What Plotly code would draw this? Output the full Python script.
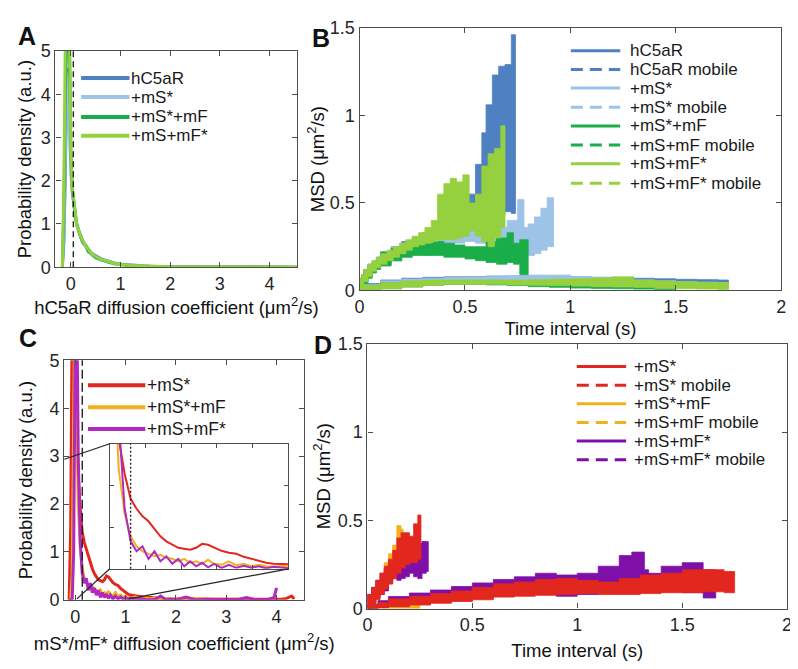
import plotly.graph_objects as go

# page offset (browser body margin) is compensated: figure is 790x661 drawn at (8, 8)
W, H = 790, 661
OFF = 8
FONT = "Liberation Sans, Arial, sans-serif"

# ---------------- Panel A: hC5aR diffusion coefficient distributions ----------------
a_D = [-0.17, -0.14, -0.11, -0.08, -0.05, -0.02, 0.0, 0.03, 0.06, 0.09, 0.12, 0.16, 0.2, 0.25,
       0.3, 0.35, 0.4, 0.45, 0.5, 0.6, 0.7, 0.8, 0.9, 1.0, 1.1, 1.2, 1.4, 1.6, 1.8, 2.0, 2.3,
       2.6, 3.0, 3.4, 3.8, 4.2, 4.56]
a_hC5aR = [0.0, 0.6, 2.2, 4.4, 4.6, 3.2, 2.3, 1.75, 1.45, 1.2, 1.0, 0.85, 0.72, 0.58, 0.5, 0.42,
           0.35, 0.3, 0.26, 0.2, 0.16, 0.12, 0.09, 0.07, 0.06, 0.05, 0.035, 0.025, 0.018, 0.012,
           0.008, 0.006, 0.004, 0.006, 0.003, 0.002, 0.002]
a_mS = [0.0, 0.8, 2.8, 4.5, 4.2, 3.0, 2.2, 1.7, 1.4, 1.15, 0.98, 0.82, 0.7, 0.56, 0.47, 0.4, 0.34,
        0.29, 0.24, 0.18, 0.14, 0.11, 0.085, 0.065, 0.055, 0.045, 0.03, 0.02, 0.015, 0.01, 0.007,
        0.005, 0.004, 0.003, 0.003, 0.002, 0.002]
a_mSmF = [0.0, 1.5, 4.0, 6.5, 6.8, 4.5, 2.6, 1.8, 1.45, 1.18, 0.98, 0.8, 0.68, 0.55, 0.5, 0.36,
          0.32, 0.27, 0.22, 0.17, 0.13, 0.1, 0.075, 0.06, 0.045, 0.035, 0.025, 0.015, 0.01, 0.008,
          0.005, 0.004, 0.003, 0.002, 0.002, 0.001, 0.001]
a_mSmFs = [0.0, 2.0, 5.5, 8.0, 7.0, 4.8, 2.7, 1.85, 1.5, 1.2, 0.95, 0.85, 0.7, 0.6, 0.48, 0.42,
           0.33, 0.28, 0.24, 0.18, 0.15, 0.11, 0.08, 0.065, 0.05, 0.04, 0.03, 0.02, 0.015, 0.01,
           0.008, 0.006, 0.004, 0.003, 0.002, 0.002, 0.001]
a_names = ["hC5aR", "+mS*", "+mS*+mF", "+mS+mF*"]
a_series = [a_hC5aR, a_mS, a_mSmF, a_mSmFs]
a_cutoff = 0.05

# ---------------- Panel B: MSD, hC5aR conditions (lower / upper error bounds) ----------------
b_t_all = [0, 0.1, 0.2, 0.3, 0.4, 0.5, 0.6, 0.7, 0.8, 0.9, 1.0, 1.1, 1.2, 1.3, 1.4, 1.5, 1.6, 1.7, 1.75]
b_hC5aR_hi = [0.01, 0.04, 0.06, 0.07, 0.075, 0.078, 0.08, 0.082, 0.082, 0.082, 0.08, 0.078, 0.075,
              0.072, 0.07, 0.067, 0.064, 0.062, 0.06]
b_hC5aR_lo = [0.0, 0.02, 0.04, 0.05, 0.055, 0.058, 0.06, 0.06, 0.06, 0.06, 0.058, 0.055, 0.05,
              0.048, 0.045, 0.042, 0.04, 0.035, 0.03]
b_mS_hi = [0.01, 0.035, 0.055, 0.065, 0.07, 0.075, 0.078, 0.082, 0.085, 0.088, 0.088, 0.08, 0.075,
           0.068, 0.06, 0.055, 0.05, 0.047, 0.045]
b_mS_lo = [0.0, 0.015, 0.03, 0.04, 0.045, 0.048, 0.05, 0.05, 0.05, 0.048, 0.045, 0.04, 0.035,
           0.03, 0.025, 0.022, 0.02, 0.017, 0.015]
b_t_mSmF = [0, 0.1, 0.2, 0.3, 0.4, 0.5, 0.6, 0.7, 0.8, 0.9, 1.0, 1.1, 1.2, 1.3, 1.4, 1.5]
b_mSmF_hi = [0.01, 0.03, 0.045, 0.05, 0.055, 0.055, 0.052, 0.05, 0.047, 0.045, 0.042, 0.04, 0.037,
             0.035, 0.032, 0.03]
b_mSmF_lo = [0.0, 0.01, 0.02, 0.03, 0.035, 0.035, 0.032, 0.028, 0.022, 0.018, 0.014, 0.012, 0.01,
             0.008, 0.006, 0.005]
b_mSmFs_hi = [0.01, 0.03, 0.045, 0.055, 0.06, 0.06, 0.06, 0.06, 0.06, 0.062, 0.065, 0.068, 0.072,
              0.078, 0.06, 0.055, 0.05, 0.047, 0.045]
b_mSmFs_lo = [0.0, 0.01, 0.02, 0.03, 0.035, 0.035, 0.035, 0.032, 0.03, 0.028, 0.025, 0.022, 0.02,
              0.018, 0.012, 0.01, 0.008, 0.006, 0.005]

# mobile fractions
b_t_hC5aR_mob = [0, 0.01, 0.02, 0.04, 0.06, 0.08, 0.1, 0.15, 0.2, 0.25, 0.3, 0.35, 0.4, 0.45, 0.5,
                 0.55, 0.58, 0.6, 0.63, 0.66, 0.69, 0.72, 0.74]
b_hC5aR_mob_hi = [0.05, 0.07, 0.09, 0.12, 0.15, 0.17, 0.19, 0.22, 0.25, 0.28, 0.3, 0.33, 0.36,
                  0.4, 0.47, 0.55, 0.72, 0.9, 1.06, 1.23, 1.28, 1.29, 1.46]
b_hC5aR_mob_lo = [0.01, 0.03, 0.05, 0.08, 0.11, 0.13, 0.15, 0.17, 0.2, 0.22, 0.23, 0.25, 0.27,
                  0.3, 0.32, 0.33, 0.35, 0.38, 0.4, 0.43, 0.45, 0.44, 0.45]
b_t_mS_mob = [0, 0.01, 0.02, 0.04, 0.06, 0.08, 0.1, 0.15, 0.2, 0.25, 0.3, 0.35, 0.4, 0.45, 0.5,
              0.55, 0.6, 0.65, 0.7, 0.75, 0.78, 0.8, 0.83, 0.86, 0.89, 0.92]
b_mS_mob_hi = [0.05, 0.07, 0.09, 0.12, 0.15, 0.17, 0.19, 0.22, 0.25, 0.27, 0.29, 0.31, 0.35, 0.4,
               0.42, 0.4, 0.38, 0.37, 0.36, 0.4, 0.52, 0.36, 0.38, 0.42, 0.47, 0.53]
b_mS_mob_lo = [0.01, 0.03, 0.05, 0.08, 0.11, 0.13, 0.15, 0.17, 0.19, 0.21, 0.22, 0.23, 0.25,
               0.27, 0.28, 0.27, 0.26, 0.25, 0.24, 0.22, 0.21, 0.2, 0.21, 0.23, 0.25, 0.28]
b_t_mSmF_mob = [0, 0.01, 0.02, 0.04, 0.06, 0.08, 0.1, 0.15, 0.2, 0.25, 0.3, 0.35, 0.4, 0.45, 0.5,
                0.55, 0.6, 0.65, 0.7, 0.73, 0.76, 0.8]
b_mSmF_mob_hi = [0.04, 0.06, 0.08, 0.11, 0.14, 0.16, 0.18, 0.22, 0.24, 0.25, 0.26, 0.27, 0.28,
                 0.27, 0.26, 0.25, 0.25, 0.28, 0.3, 0.33, 0.27, 0.29]
b_mSmF_mob_lo = [0.0, 0.02, 0.04, 0.07, 0.1, 0.12, 0.14, 0.17, 0.19, 0.2, 0.2, 0.2, 0.19, 0.19,
                 0.18, 0.17, 0.16, 0.15, 0.16, 0.15, 0.09, 0.14]
b_t_mSmFs_mob = [0, 0.01, 0.02, 0.04, 0.06, 0.08, 0.1, 0.13, 0.16, 0.19, 0.22, 0.25, 0.28, 0.31,
                 0.34, 0.37, 0.4, 0.43, 0.46, 0.49, 0.52, 0.55, 0.58, 0.61, 0.64, 0.67, 0.69]
b_mSmFs_mob_hi = [0.05, 0.07, 0.09, 0.12, 0.15, 0.17, 0.19, 0.21, 0.23, 0.25, 0.27, 0.29, 0.31,
                  0.33, 0.36, 0.4, 0.55, 0.61, 0.64, 0.62, 0.66, 0.5, 0.55, 0.71, 0.78, 0.81, 0.94]
b_mSmFs_mob_lo = [0.01, 0.03, 0.05, 0.08, 0.11, 0.13, 0.15, 0.17, 0.19, 0.21, 0.23, 0.25, 0.26,
                  0.27, 0.28, 0.29, 0.29, 0.29, 0.3, 0.31, 0.34, 0.31, 0.28, 0.25, 0.3, 0.36, 0.38]
b_names = ["hC5aR", "hC5aR mobile", "+mS*", "+mS* mobile", "+mS*+mF", "+mS+mF mobile",
           "+mS+mF*", "+mS+mF* mobile"]

# ---------------- Panel C: mS*/mF* diffusion coefficient distributions ----------------
c_D = [-0.12, -0.09, -0.06, -0.03, 0.0, 0.03, 0.06, 0.1, 0.14, 0.18, 0.22, 0.26, 0.3, 0.34, 0.38,
       0.42, 0.46, 0.5, 0.54, 0.58, 0.62, 0.66, 0.7, 0.75, 0.8, 0.85, 0.9, 0.95, 1.0, 1.05, 1.1,
       1.2, 1.3, 1.4, 1.5, 1.6, 1.7, 1.8, 1.9, 2.0, 2.2, 2.4, 2.6, 2.8, 3.0, 3.2, 3.4, 3.6, 3.8,
       3.95, 4.0, 4.05, 4.2, 4.3, 4.35]
c_mS = [0.0, 1.5, 6.0, 5.5, 4.0, 3.2, 2.6, 1.9, 1.4, 1.2, 1.05, 0.95, 0.8, 0.65, 0.55, 0.48, 0.42,
        0.4, 0.38, 0.42, 0.5, 0.48, 0.42, 0.36, 0.32, 0.3, 0.24, 0.2, 0.15, 0.12, 0.1, 0.08, 0.06,
        0.05, 0.05, 0.04, 0.03, 0.03, 0.02, 0.02, 0.02, 0.015, 0.01, 0.015, 0.01, 0.01, 0.01,
        0.01, 0.01, 0.01, 0.01, 0.01, 0.03, 0.08, 0.02]
c_mSmF = [0.0, 0.0, 0.5, 4.0, 7.0, 4.0, 2.0, 1.1, 0.65, 0.45, 0.35, 0.3, 0.25, 0.28, 0.22, 0.2,
          0.15, 0.2, 0.12, 0.15, 0.1, 0.18, 0.1, 0.08, 0.15, 0.07, 0.1, 0.05, 0.08, 0.05, 0.04,
          0.06, 0.03, 0.04, 0.02, 0.05, 0.02, 0.03, 0.01, 0.02, 0.01, 0.03, 0.01,
          None, None, None, None, None, None, None, None, None, None, None, None]
c_mSmFs = [0.0, 0.0, 0.0, 1.0, 5.5, 6.5, 3.0, 1.2, 0.55, 0.35, 0.45, 0.2, 0.35, 0.15, 0.25, 0.1,
           0.2, 0.05, 0.15, 0.05, 0.12, 0.03, 0.1, 0.02, 0.08, 0.02, 0.06, 0.02, 0.05, 0.01, 0.04,
           0.01, 0.03, 0.01, 0.0, 0.02, 0.08, 0.0, 0.01, 0.0, 0.06, 0.0, 0.01, 0.0, 0.0, 0.0,
           0.05, 0.0, 0.0, 0.05, 0.25, None, None, None, None]
c_names = ["+mS*", "+mS*+mF", "+mS+mF*"]
c_series = [c_mS, c_mSmF, c_mSmFs]
c_cutoff = 0.14

# ---------------- Panel D: MSD, mS*/mF* conditions ----------------
d_t_mS = [0, 0.05, 0.1, 0.2, 0.3, 0.4, 0.5, 0.6, 0.7, 0.8, 0.9, 1.0, 1.1, 1.2, 1.3, 1.4, 1.5, 1.6,
          1.7, 1.75]
d_mS_hi = [0.005, 0.02, 0.035, 0.055, 0.07, 0.085, 0.1, 0.12, 0.14, 0.15, 0.165, 0.17, 0.16, 0.15,
           0.17, 0.19, 0.2, 0.22, 0.22, 0.21]
d_mS_lo = [0.0, 0.005, 0.01, 0.02, 0.03, 0.04, 0.05, 0.065, 0.07, 0.075, 0.08, 0.085, 0.08, 0.08,
           0.085, 0.09, 0.09, 0.095, 0.09, 0.09]
d_t_mSmF = [0, 0.05, 0.1, 0.15, 0.2, 0.25]
d_mSmF_hi = [0.005, 0.015, 0.02, 0.025, 0.025, 0.02]
d_mSmF_lo = [0.0, 0.0, 0.0, 0.0, 0.0, 0.0]
d_t_mSmFs = [0, 0.05, 0.1, 0.2, 0.3, 0.4, 0.5, 0.6, 0.7, 0.8, 0.9, 1.0, 1.1, 1.2, 1.26, 1.32,
             1.34, 1.4, 1.5, 1.6, 1.66]
d_mSmFs_hi = [0.005, 0.025, 0.045, 0.068, 0.088, 0.105, 0.125, 0.145, 0.165, 0.18, 0.2, 0.19, 0.2,
              0.24, 0.3, 0.32, 0.22, 0.2, 0.24, 0.26, 0.22]
d_mSmFs_lo = [0.0, 0.005, 0.015, 0.025, 0.035, 0.045, 0.06, 0.07, 0.08, 0.08, 0.07, 0.08, 0.09,
              0.09, 0.1, 0.1, 0.1, 0.1, 0.09, 0.06, 0.1]
d_t_mS_mob = [0, 0.02, 0.04, 0.06, 0.08, 0.1, 0.12, 0.14, 0.16, 0.18, 0.2, 0.22, 0.24, 0.255]
d_mS_mob_hi = [0.03, 0.08, 0.12, 0.16, 0.2, 0.24, 0.28, 0.33, 0.4, 0.43, 0.43, 0.41, 0.48, 0.53]
d_mS_mob_lo = [0.0, 0.02, 0.05, 0.08, 0.11, 0.14, 0.17, 0.2, 0.23, 0.25, 0.26, 0.26, 0.28, 0.3]
d_t_mSmF_mob = [0, 0.02, 0.04, 0.06, 0.08, 0.1, 0.12, 0.14, 0.16, 0.17]
d_mSmF_mob_hi = [0.03, 0.08, 0.12, 0.16, 0.2, 0.26, 0.31, 0.36, 0.47, 0.45]
d_mSmF_mob_lo = [0.0, 0.03, 0.06, 0.09, 0.12, 0.15, 0.19, 0.22, 0.25, 0.26]
d_t_mSmFs_mob = [0, 0.02, 0.04, 0.06, 0.08, 0.1, 0.12, 0.14, 0.16, 0.18, 0.2, 0.22, 0.24, 0.26,
                 0.28, 0.29]
d_mSmFs_mob_hi = [0.03, 0.08, 0.12, 0.16, 0.2, 0.23, 0.25, 0.26, 0.29, 0.31, 0.33, 0.3, 0.34,
                  0.37, 0.38, 0.38]
d_mSmFs_mob_lo = [0.0, 0.03, 0.06, 0.08, 0.1, 0.14, 0.17, 0.16, 0.17, 0.18, 0.2, 0.18, 0.17, 0.2,
                  0.21, 0.22]
d_names = ["+mS*", "+mS* mobile", "+mS*+mF", "+mS+mF mobile", "+mS+mF*", "+mS+mF* mobile"]

# axis titles
t_A_x = "hC5aR diffusion coefficient (μm<sup>2</sup>/s)"
t_C_x = "mS*/mF* diffusion coefficient (μm<sup>2</sup>/s)"
t_dens = "Probability density (a.u.)"
t_msd = "MSD (μm<sup>2</sup>/s)"
t_time = "Time interval (s)"

# ---------------- styling ----------------
C_DB, C_LB, C_G, C_LG = "#4f81c2", "#9dc3e6", "#1aae4a", "#95d13f"
C_R, C_O, C_P, C_PD = "#e2271f", "#f2b01e", "#b02ac0", "#7e10a8"
AX = "#4d4d4d"
TXT = "#262626"


def px(x):
    return (x - OFF) / W


def py(y):
    return 1 - (y - OFF) / H


fig = go.Figure()


def band(t, lo, hi, color, ax):
    xs = list(t) + list(t)[::-1]
    ys = list(hi) + list(lo)[::-1]
    fig.add_trace(go.Scatter(x=xs, y=ys, mode="lines", fill="toself", fillcolor=color,
                             line=dict(color=color, width=0.8, shape="vh"),
                             xaxis="x" + ax, yaxis="y" + ax, hoverinfo="skip",
                             showlegend=False))


# Panel A curves
for s, c, n in zip(a_series, [C_DB, C_LB, C_G, C_LG], a_names):
    fig.add_trace(go.Scatter(x=a_D, y=s, mode="lines", name=n, line=dict(color=c, width=3),
                             xaxis="x", yaxis="y", showlegend=False))

# Panel B bands
band(b_t_all, b_hC5aR_lo, b_hC5aR_hi, C_DB, "2")
band(b_t_hC5aR_mob, b_hC5aR_mob_lo, b_hC5aR_mob_hi, C_DB, "2")
band(b_t_all, b_mS_lo, b_mS_hi, C_LB, "2")
band(b_t_mS_mob, b_mS_mob_lo, b_mS_mob_hi, C_LB, "2")
band(b_t_mSmF, b_mSmF_lo, b_mSmF_hi, C_G, "2")
band(b_t_mSmF_mob, b_mSmF_mob_lo, b_mSmF_mob_hi, C_G, "2")
band(b_t_all, b_mSmFs_lo, b_mSmFs_hi, C_LG, "2")
band(b_t_mSmFs_mob, b_mSmFs_mob_lo, b_mSmFs_mob_hi, C_LG, "2")

# Panel C curves (main + inset)
for s, c, n in zip(c_series, [C_R, C_O, C_P], c_names):
    fig.add_trace(go.Scatter(x=c_D, y=s, mode="lines", name=n, line=dict(color=c, width=3),
                             xaxis="x3", yaxis="y3", showlegend=False))
for s, c, n in zip(c_series, [C_R, C_O, C_P], c_names):
    fig.add_trace(go.Scatter(x=c_D, y=s, mode="lines", name=n, line=dict(color=c, width=2),
                             xaxis="x5", yaxis="y5", showlegend=False))

# Panel D bands
band(d_t_mSmF, d_mSmF_lo, d_mSmF_hi, C_O, "4")
band(d_t_mSmF_mob, d_mSmF_mob_lo, d_mSmF_mob_hi, C_O, "4")
band(d_t_mSmFs, d_mSmFs_lo, d_mSmFs_hi, C_PD, "4")
band(d_t_mSmFs_mob, d_mSmFs_mob_lo, d_mSmFs_mob_hi, C_PD, "4")
band(d_t_mS, d_mS_lo, d_mS_hi, C_R, "4")
band(d_t_mS_mob, d_mS_mob_lo, d_mS_mob_hi, C_R, "4")


def axis(domain, rng, anchor, dtick=None, labels=True, tl=5, title=None, standoff=None):
    d = dict(domain=domain, range=rng, anchor=anchor, showline=True, mirror="ticks",
             linecolor=AX, linewidth=1.3, ticks="inside", ticklen=tl, tickcolor=AX,
             tickwidth=1, showgrid=False, zeroline=False, showticklabels=labels,
             tickfont=dict(family=FONT, size=18, color=TXT))
    if dtick is not None:
        d["dtick"] = dtick
        d["tick0"] = 0
    if title is not None:
        d["title"] = dict(text=title, standoff=standoff,
                          font=dict(family=FONT, size=18.5, color="#111"))
    return d


layout = dict(
    width=W, height=H, margin=dict(l=0, r=0, t=0, b=0), autosize=False,
    paper_bgcolor="white", plot_bgcolor="rgba(0,0,0,0)", showlegend=False,
    font=dict(family=FONT, color=TXT),
    xaxis=axis([px(51), px(296)], [-0.31, 4.56], "y", 1, title=t_A_x, standoff=5),
    yaxis=axis([py(265), py(42)], [0, 5], "x", 1, title=t_dens, standoff=4),
    xaxis2=axis([px(359), px(786)], [0, 2], "y2", 0.5, title=t_time, standoff=5),
    yaxis2=axis([py(289), py(18)], [0, 1.5], "x2", 0.5, title=t_msd, standoff=0),
    xaxis3=axis([px(60), px(303)], [-0.216, 4.55], "y3", 1, title=t_C_x, standoff=11),
    yaxis3=axis([py(608), py(361)], [0, 5.0], "x3", 1, title=t_dens, standoff=12),
    xaxis4=axis([px(367), px(792)], [0, 2], "y4", 0.5, title=t_time, standoff=9),
    yaxis4=axis([py(617), py(344)], [0, 1.5], "x4", 0.5, title=t_msd, standoff=2),
    xaxis5=axis([px(106), px(287)], [0, 1.2], "y5", 0.24, labels=False, tl=4),
    yaxis5=axis([py(576), py(447)], [0, 2.5], "x5", 2.5 / 3, labels=False, tl=4),
)
fig.update_layout(**layout)

shapes = []
annos = []

# cutoff lines
shapes.append(dict(type="line", xref="x", yref="y domain", x0=a_cutoff, x1=a_cutoff, y0=0, y1=1,
                   line=dict(color="#222", width=1.4, dash="6px,4px")))
shapes.append(dict(type="line", xref="x3", yref="y3 domain", x0=c_cutoff, x1=c_cutoff, y0=0, y1=1,
                   line=dict(color="#222", width=1.4, dash="9px,4px")))
shapes.append(dict(type="line", xref="x5", yref="y5 domain", x0=c_cutoff, x1=c_cutoff, y0=0, y1=1,
                   line=dict(color="#222", width=1.4, dash="2px,2px")))
# inset connector lines
for (x0, y0, x1, y1) in [(60, 463, 106, 447), (72.7, 607, 106, 576), (125, 607, 287, 576)]:
    shapes.append(dict(type="line", xref="paper", yref="paper", x0=px(x0), y0=py(y0),
                       x1=px(x1), y1=py(y1), line=dict(color="#222", width=1.2)))


def legend(names, colors, dashes, x0, x1, xt, ys, lw, fs):
    for n, c, d, y in zip(names, colors, dashes, ys):
        shapes.append(dict(type="line", xref="paper", yref="paper", x0=px(x0), x1=px(x1),
                           y0=py(y), y1=py(y),
                           line=dict(color=c, width=lw, dash="12px,7px" if d else "solid")))
        annos.append(dict(xref="paper", yref="paper", x=px(xt), y=py(y), text=n,
                          showarrow=False, xanchor="left", yanchor="middle", borderpad=0,
                          font=dict(family=FONT, size=fs, color="#1a1a1a")))


legend(a_names, [C_DB, C_LB, C_G, C_LG], [0, 0, 0, 0], 77, 126, 127,
       [70, 89.5, 110, 129.5], 4, 17)
legend(b_names, [C_DB, C_DB, C_LB, C_LB, C_G, C_G, C_LG, C_LG], [0, 1] * 4, 573, 623, 632,
       [41.7, 61, 80.3, 100, 119.3, 139, 158.3, 178.3], 3, 17)
legend(c_names, [C_R, C_O, C_P], [0, 0, 0], 84, 142, 143, [386.7, 409.3, 431.7], 4, 17.5)
legend(d_names, [C_R, C_R, C_O, C_O, C_PD, C_PD], [0, 1] * 3, 579, 629, 636,
       [367.5, 386.7, 405.7, 425, 444.2, 463.5], 3, 17)


def text(x, y, s, size=18.5, bold=False):
    annos.append(dict(xref="paper", yref="paper", x=px(x), y=py(y),
                      text=("<b>%s</b>" % s) if bold else s, showarrow=False,
                      xanchor="center", yanchor="middle",
                      font=dict(family=FONT, size=size, color="#111")))


text(22, 27, "A", 25, bold=True)
text(320, 29, "B", 25, bold=True)
text(23, 338, "C", 25, bold=True)
text(322, 345, "D", 25, bold=True)

fig.update_layout(shapes=shapes, annotations=annos)
fig.write_html("out.html")
